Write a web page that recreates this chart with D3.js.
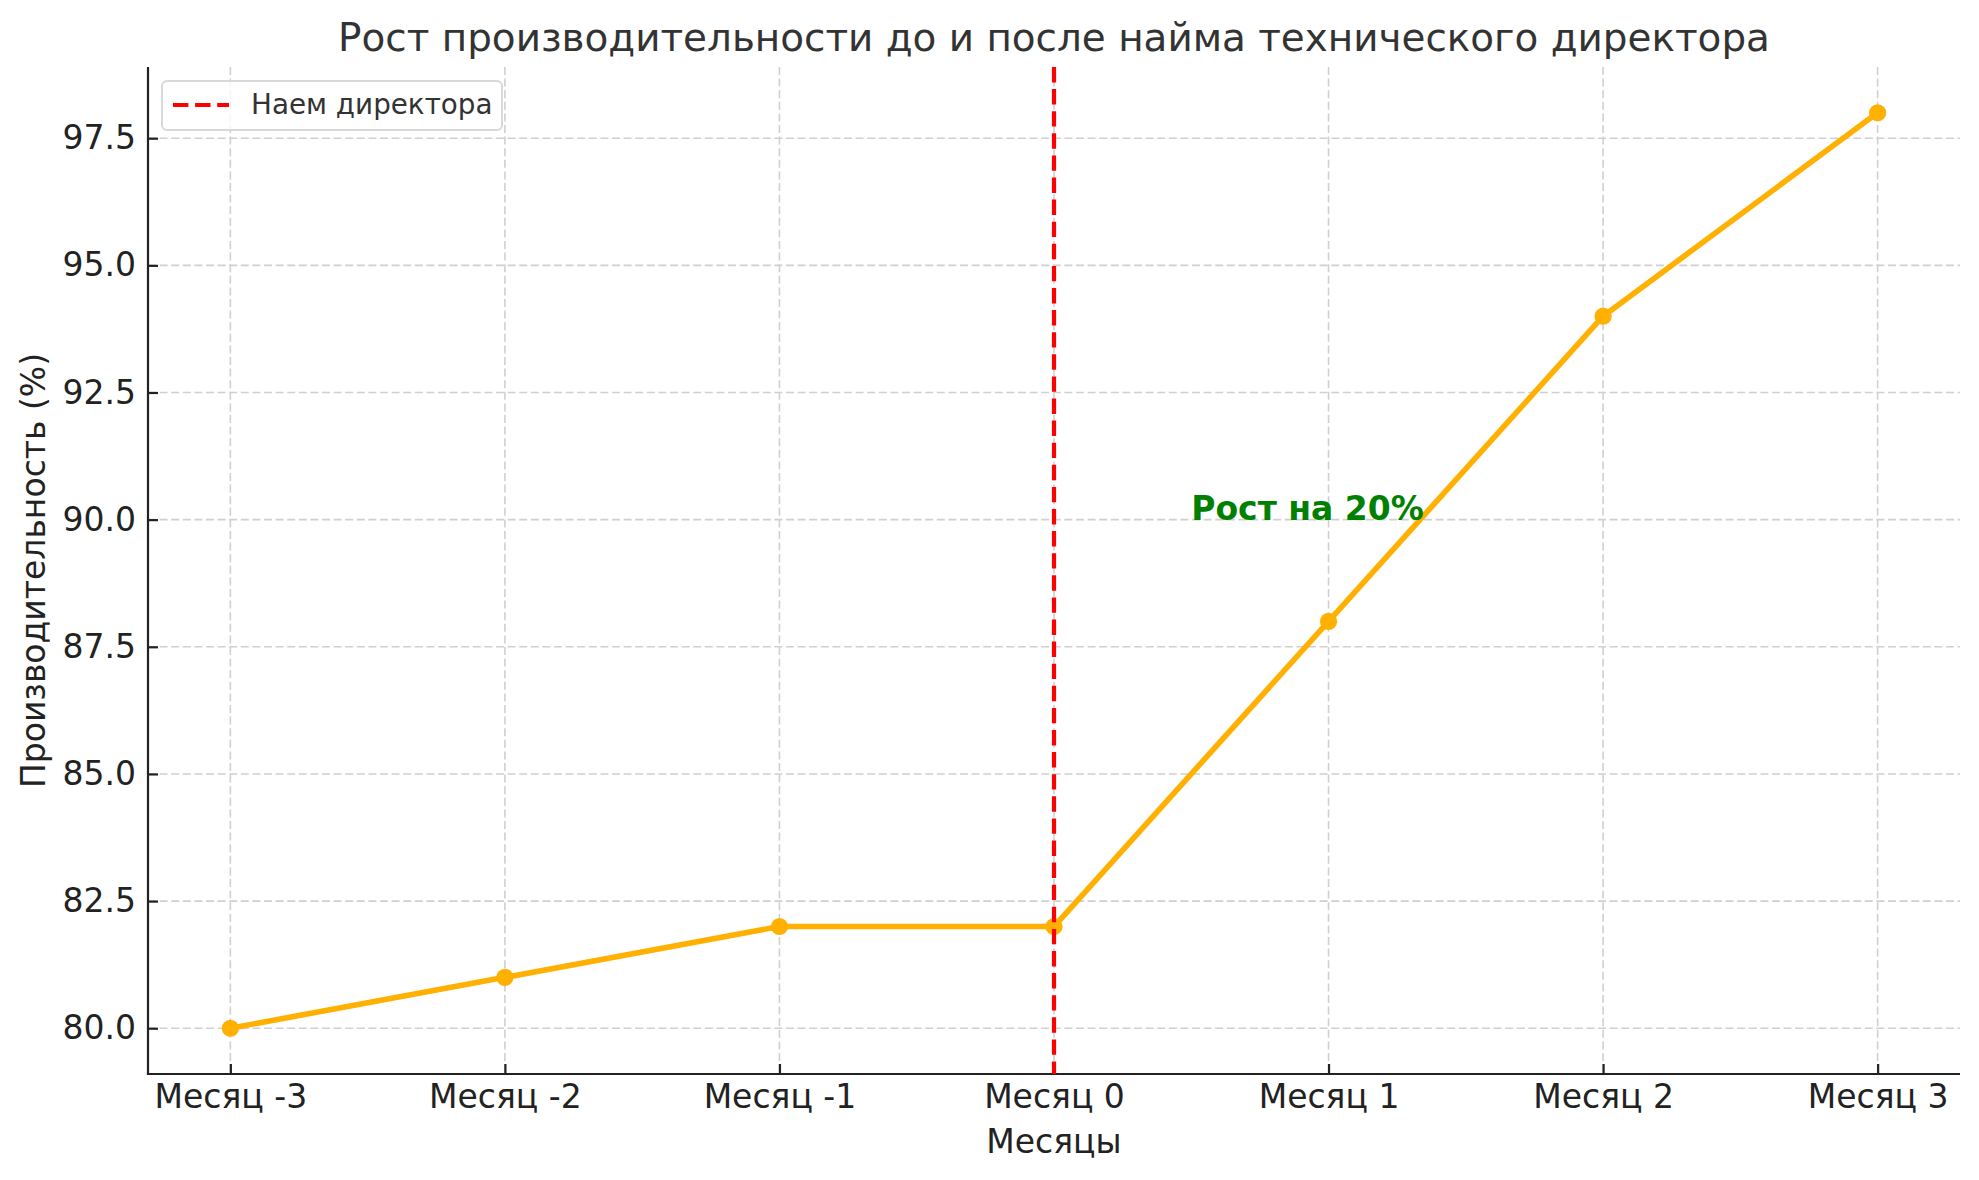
<!DOCTYPE html>
<html><head><meta charset="utf-8">
<script src="https://cdn.jsdelivr.net/npm/d3@7"></script>
<style>body{margin:0;background:#fff}svg{display:block}text{font-family:"DejaVu Sans",sans-serif}</style>
</head><body>
<script>
const months = ["Месяц -3","Месяц -2","Месяц -1","Месяц 0","Месяц 1","Месяц 2","Месяц 3"];
const productivity = [80, 81, 82, 82, 88, 94, 98];
const yTicks = [80, 82.5, 85, 87.5, 90, 92.5, 95, 97.5];
const hireMonth = "Месяц 0";
const annotation = {month: 3.5, value: 90, text: "Рост на 20%"};
const titleText = "Рост производительности до и после найма технического директора";
const xLabel = "Месяцы", yLabel = "Производительность (%)", legendLabel = "Наем директора";

const W = 1979, H = 1180;
const m = {left: 148, right: 1960, top: 67, bottom: 1074};
const svg = d3.select("body").append("svg").attr("width", W).attr("height", H);

const x = d3.scaleLinear().domain([-0.3, months.length - 0.7]).range([m.left, m.right]);
const y = d3.scaleLinear().domain([79.1, 98.9]).range([m.bottom, m.top]);

// grid
const g = svg.append("g");
g.selectAll(".vg").data(months).enter().append("line")
  .attr("x1", (d,i)=>x(i)).attr("x2", (d,i)=>x(i)).attr("y1", m.top).attr("y2", m.bottom)
  .attr("stroke", "#d0d0d0").attr("stroke-width", 1.6).attr("stroke-dasharray", "8,3.6");
g.selectAll(".hg").data(yTicks).enter().append("line")
  .attr("x1", m.left).attr("x2", m.right).attr("y1", d=>y(d)).attr("y2", d=>y(d))
  .attr("stroke", "#d0d0d0").attr("stroke-width", 1.6).attr("stroke-dasharray", "8,3.6");

// axes
const xAxis = d3.axisBottom(x).tickValues(d3.range(months.length)).tickFormat(i=>months[i]).tickSizeInner(-10).tickSizeOuter(0).tickPadding(22);
const yAxis = d3.axisLeft(y).tickValues(yTicks).tickFormat(d3.format(".1f")).tickSizeInner(-10).tickSizeOuter(0).tickPadding(22);
const xg = svg.append("g").attr("transform", `translate(0,${m.bottom})`).call(xAxis);
const yg = svg.append("g").attr("transform", `translate(${m.left},0)`).call(yAxis);
[xg, yg].forEach(a=>{
  a.select(".domain").remove();
  a.selectAll(".tick line").attr("stroke", "#222").attr("stroke-width", 2.2);
  a.selectAll(".tick text").attr("fill", "#222").attr("font-size", 33).attr("font-family", "DejaVu Sans");
});
xg.selectAll(".tick text").attr("dy", "0.71em").attr("y", 11);
yg.selectAll(".tick text").attr("x", -12);
svg.append("line").attr("x1", m.left).attr("x2", m.left).attr("y1", m.top).attr("y2", m.bottom+1.1).attr("stroke", "#222").attr("stroke-width", 2.2);
svg.append("line").attr("x1", m.left-1.1).attr("x2", m.right).attr("y1", m.bottom).attr("y2", m.bottom).attr("stroke", "#222").attr("stroke-width", 2.2);

// data line
const lineColor = "#ffb000";
svg.append("path").datum(productivity)
  .attr("d", d3.line().x((d,i)=>x(i)).y(d=>y(d)))
  .attr("fill", "none").attr("stroke", lineColor).attr("stroke-width", 5.6).attr("stroke-linejoin", "round").attr("stroke-linecap", "square");
svg.selectAll(".pt").data(productivity).enter().append("circle")
  .attr("cx", (d,i)=>x(i)).attr("cy", d=>y(d)).attr("r", 8.6).attr("fill", lineColor);

// hire line
const hx = x(months.indexOf(hireMonth));
svg.append("line").attr("x1", hx).attr("x2", hx).attr("y1", m.top).attr("y2", m.bottom)
  .attr("stroke", "#ff0000").attr("stroke-width", 4.2).attr("stroke-dasharray", "15.4,6.7");

// annotation
svg.append("text").attr("x", x(annotation.month)).attr("y", y(annotation.value))
  .attr("fill", "#008000").attr("font-weight", "bold").attr("font-size", 33).text(annotation.text);

// legend
const lg = svg.append("g");
lg.append("rect").attr("x", 162).attr("y", 81).attr("width", 340).attr("height", 49).attr("rx", 5)
  .attr("fill", "#fff").attr("fill-opacity", 0.8).attr("stroke", "#d8d8d8").attr("stroke-width", 2);
lg.append("line").attr("x1", 173).attr("x2", 229).attr("y1", 105).attr("y2", 105)
  .attr("stroke", "#ff0000").attr("stroke-width", 4.2).attr("stroke-dasharray", "15.4,6.7");
lg.append("text").attr("x", 251).attr("y", 114).attr("font-size", 27.8).attr("fill", "#333").text(legendLabel);

// titles
svg.append("text").attr("x", (m.left+m.right)/2).attr("y", 51).attr("text-anchor", "middle")
  .attr("font-size", 38.9).attr("fill", "#333").text(titleText);
svg.append("text").attr("x", (m.left+m.right)/2).attr("y", 1153).attr("text-anchor", "middle")
  .attr("font-size", 33).attr("fill", "#222").text(xLabel);
svg.append("text").attr("transform", `translate(45,${(m.top+m.bottom)/2}) rotate(-90)`).attr("text-anchor", "middle")
  .attr("font-size", 33).attr("fill", "#222").text(yLabel);
</script>
</body></html>
